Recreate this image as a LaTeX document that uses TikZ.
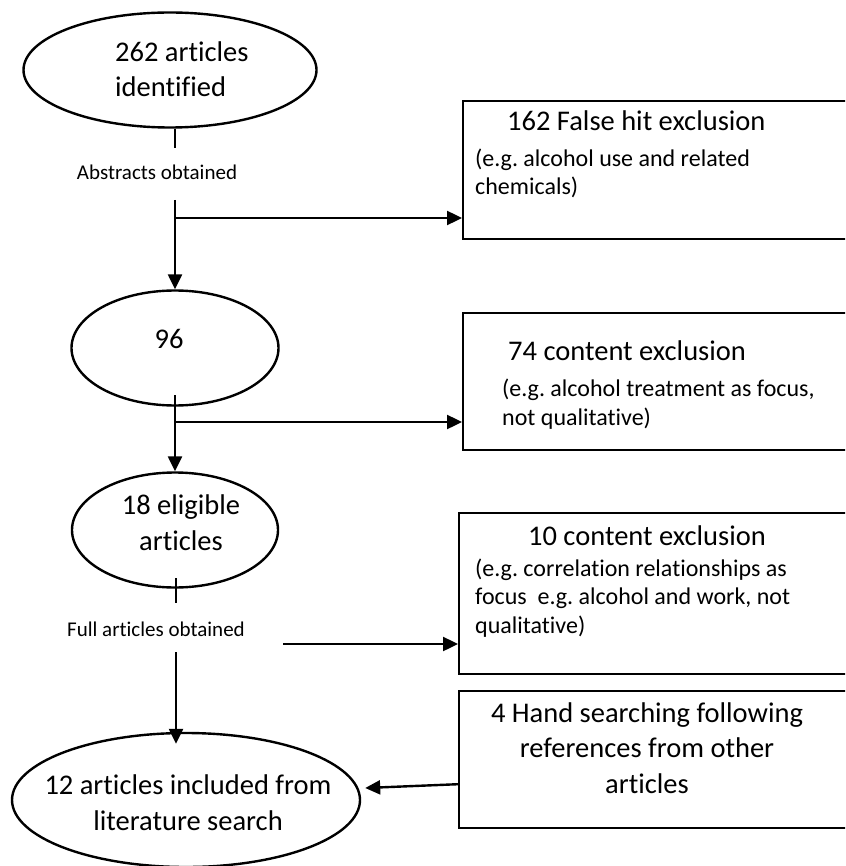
\documentclass[tikz,border=0pt]{standalone}
\usepackage{fontspec}
\setmainfont{Carlito}[Ligatures={NoCommon}]
\usetikzlibrary{shapes.geometric,arrows.meta}
\tikzset{
  ln/.style={line width=2.4pt},
  arr/.style={ln,-{Triangle[length=15pt,width=14pt]}},
  ell/.style={draw,ellipse,ln,inner sep=0pt},
  bx/.style={draw,rectangle,ln,inner sep=0pt,anchor=north west},
  big/.style={font=\fontsize{28.5}{35.5}\selectfont,inner sep=0pt},
  mid/.style={font=\fontsize{24}{28.5}\selectfont,inner sep=0pt},
  sml/.style={font=\fontsize{21}{25}\selectfont,inner sep=0pt}
}
\begin{document}
\begin{tikzpicture}[x=1pt,y=-1pt]
\useasboundingbox (0,0) rectangle (845,866);
\clip (0,0) rectangle (845,866);
\fill[white] (0,0) rectangle (845,866);

% ellipses
\node[ell,minimum width=293pt,minimum height=115pt] (e1) at (170,70) {};
\node[ell,minimum width=207pt,minimum height=115pt] (e2) at (175,348) {};
\node[ell,minimum width=206pt,minimum height=115pt] (e3) at (175,530) {};
\node[ell,minimum width=348pt,minimum height=134pt] (e4) at (186,800) {};

% texts (anchor base = baseline of the last line)
\node[big,align=left,anchor=base west] (t1) at (115,97) {262 articles\\identified};
\node[big,anchor=base] (t2) at (169,348) {96};
\node[big,align=center,anchor=base] (t3) at (181,550) {18 eligible\\articles};
\node[big,align=center,anchor=base] (t4) at (188,830) {12 articles included from\\literature search};

% boxes
\node[bx,minimum width=400pt,minimum height=138pt] (b1) at (462,100) {};
\node[bx,minimum width=400pt,minimum height=137pt] (b2) at (462,312) {};
\node[bx,minimum width=404pt,minimum height=161pt] (b3) at (458,512) {};
\node[bx,minimum width=404pt,minimum height=137pt] (b4) at (458,690) {};

\node[big,anchor=base west] (h1) at (507,131) {162 False hit exclusion};
\node[mid,align=left,anchor=base west] (s1) at (475,195) {(e.g.\ alcohol use and related\\chemicals)};
\node[big,anchor=base west] (h2) at (508,360) {74 content exclusion};
\node[mid,align=left,anchor=base west] (s2) at (502,425) {(e.g.\ alcohol treatment as focus,\\not qualitative)};
\node[big,anchor=base] (h3) at (647,545) {10 content exclusion};
\node[mid,align=left,anchor=base west] (s3) at (475,633) {(e.g.\ correlation relationships as\\focus\ \ e.g.\ alcohol and work, not\\qualitative)};
\node[big,align=center,anchor=base] (h4) at (647,793) {4 Hand searching following\\references from other\\articles};

% labels
\node[sml,anchor=base] (l1) at (157,180) {Abstracts obtained};
\node[sml,anchor=base] (l2) at (156,636) {Full articles obtained};

% connectors
\coordinate (a1) at (175,148);
\coordinate (a2) at (175,200);
\coordinate (a3) at (175,218);
\coordinate (c1) at (175,395);
\coordinate (c2) at (175,422);
\coordinate (d1) at (176,578);
\coordinate (d2) at (176,603);
\coordinate (d3) at (176,652);
\coordinate (d4) at (283,644);

\draw[ln] (a1 |- e1.south) -- (a1);
\draw[arr] (a2) -- (a2 |- e2.north);
\draw[arr] (a3) -- (a3 -| b1.west);
\draw[arr] (c1) -- (c1 |- e3.north);
\draw[arr] (c2) -- (c2 -| b2.west);
\draw[ln] (d1) -- (d2);
\draw[arr] (d3) -- ([yshift=-12pt]d3 |- e4.north);
\draw[arr] (d4) -- (d4 -| b3.west);
\draw[arr] ([yshift=-24.5pt]b4.west) -- ([yshift=12pt,xshift=4pt]e4.east);
\end{tikzpicture}
\end{document}
